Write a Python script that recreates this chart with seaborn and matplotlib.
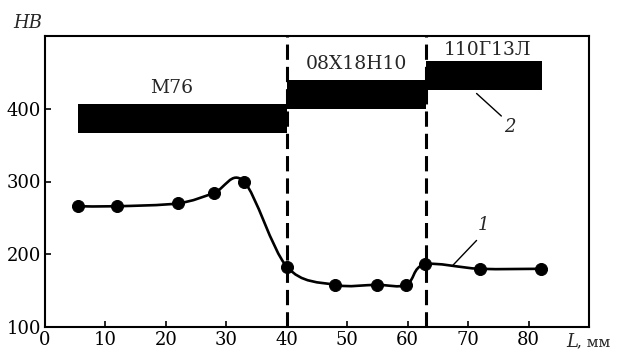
import numpy as np
import pandas as pd
import matplotlib
matplotlib.use("Agg")
import matplotlib.pyplot as plt
import seaborn as sns
from matplotlib.path import Path
from matplotlib.patches import PathPatch

# Hardness profile (curve 1)
dist_mm = [5.5, 11.9, 22.0, 27.9, 32.9, 40.0, 47.9, 54.9, 59.8, 62.8, 71.9, 82.0]
hardness = [266, 266, 270, 284, 300, 183, 158, 158, 158, 186, 180, 180]

# Reference hardness bands of the materials (curve 2)
materials = ["М76", "08Х18Н10", "110Г13Л"]
band_start = [5.4, 40.0, 63.0]
band_end = [40.0, 63.0, 82.3]
band_low = [366, 400, 426]
band_high = [407, 439, 466]
label_x = [21.0, 51.6, 73.2]
label_y = [428, 462, 481]

# weld boundaries
borders = [40.0, 63.0]

x_ticks = [0, 10, 20, 30, 40, 50, 60, 70, 80]
y_ticks = [100, 200, 300, 400]

df = pd.DataFrame({"L": dist_mm, "HB": hardness})

sns.set_style("ticks")
plt.rcParams["font.family"] = ["DejaVu Serif", "Liberation Serif"]

fig = plt.figure(figsize=(6.26, 3.54), dpi=100)
ax = fig.add_axes([45 / 626, 27 / 354, 544 / 626, 291 / 354])

# bands
for x0, x1, lo, hi in zip(band_start, band_end, band_low, band_high):
    ax.fill_between([x0, x1], lo, hi, color="black", linewidth=0, zorder=2)
for name, tx, ty in zip(materials, label_x, label_y):
    ax.text(tx, ty, name, ha="center", va="center", fontsize=13.5, zorder=4)

# dashed borders
for b in borders:
    ax.axvline(b, color="black", lw=2.2, ls=(0, (5, 2.3)), zorder=1)

# smooth line through measured points (Catmull-Rom as Bezier)
pts = df[["L", "HB"]].to_numpy(dtype=float)
ext = np.vstack([pts[0], pts, pts[-1]])
verts = [tuple(pts[0])]
codes = [Path.MOVETO]
for i in range(1, len(ext) - 2):
    p0, p1, p2, p3 = ext[i - 1], ext[i], ext[i + 1], ext[i + 2]
    c1 = p1 + (p2 - p0) / 6
    c2 = p2 - (p3 - p1) / 6
    verts += [tuple(c1), tuple(c2), tuple(p2)]
    codes += [Path.CURVE4] * 3
ax.add_patch(PathPatch(Path(verts, codes), fill=False, lw=1.9, color="black", zorder=3))

sns.scatterplot(data=df, x="L", y="HB", ax=ax, color="black", s=75,
                edgecolor="black", zorder=4, legend=False)

# leader lines and curve numbers
ax.plot([67.5, 71.4], [185, 219], color="black", lw=1)
ax.text(72.6, 240, "1", fontsize=13, style="italic", ha="center", va="center")
ax.plot([71.4, 75.5], [421, 390], color="black", lw=1)
ax.text(76.9, 375, "2", fontsize=13, style="italic", ha="center", va="center")

ax.set_xlim(0, 90)
ax.set_ylim(100, 500)
ax.set_xticks(x_ticks)
ax.set_yticks(y_ticks)
ax.set_xlabel("")
ax.set_ylabel("")
ax.tick_params(direction="in", length=4, width=1.2, labelsize=13, colors="black", pad=3)
for sp in ax.spines.values():
    sp.set_visible(True)
    sp.set_linewidth(1.5)
    sp.set_color("black")

fig.text(28 / 626, 1 - 23 / 354, "HB", fontsize=13, style="italic", ha="center", va="center")
fig.text(566 / 626, 1 - 342 / 354, "L", fontsize=13, style="italic", ha="left", va="center")
fig.text(577 / 626, 1 - 342 / 354, ", мм", fontsize=11, ha="left", va="center")

fig.savefig("out.png", dpi=100)
